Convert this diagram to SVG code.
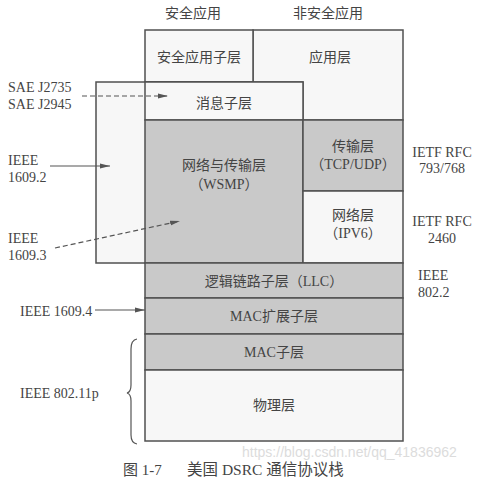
<svg xmlns="http://www.w3.org/2000/svg" width="495" height="486" viewBox="0 0 495 486">
<style>
.w{fill:#f7f7f7;stroke:#505050;stroke-width:1.5}
.g{fill:#c9c9c9;stroke:#505050;stroke-width:1.5}
text{font-family:"Liberation Serif","Noto Sans CJK SC",serif;font-size:14px;fill:#444}
.c{text-anchor:middle}
.ln{stroke:#555;stroke-width:1.2;fill:none}
.d{stroke-dasharray:5,3}
</style>
<defs>
<marker id="ah" viewBox="0 0 10 6" refX="10" refY="3" markerWidth="10" markerHeight="6" markerUnits="userSpaceOnUse" orient="auto">
<path d="M0,0.5 L10,3 L0,5.5 Z" fill="#555"/>
</marker>
</defs>
<rect width="495" height="486" fill="#fff"/>
<text class="c" x="193" y="18">安全应用</text>
<text class="c" x="328" y="18">非安全应用</text>
<g id="app-layer"><rect class="w" x="253" y="30" width="150" height="90"/><text class="c" x="330" y="62">应用层</text></g>
<g id="safety-app-sublayer"><rect class="w" x="145" y="30" width="108" height="52"/><text class="c" x="199" y="62">安全应用子层</text></g>
<g id="wave-box"><rect class="w" x="96" y="82" width="207" height="181"/></g>
<g id="message-sublayer"><rect class="w" x="145" y="82" width="158" height="38"/><text class="c" x="224" y="108">消息子层</text></g>
<g id="network-transport"><rect class="g" x="145" y="120" width="158" height="143"/><text class="c" x="224" y="170">网络与传输层</text><text class="c" x="224" y="189">（WSMP）</text></g>
<g id="transport"><rect class="g" x="303" y="120" width="100" height="71"/><text class="c" x="353" y="151">传输层</text><text class="c" x="353" y="169">（TCP/UDP）</text></g>
<g id="network"><rect class="w" x="303" y="191" width="100" height="72"/><text class="c" x="353" y="220">网络层</text><text class="c" x="353" y="238">（IPV6）</text></g>
<g id="llc"><rect class="g" x="145" y="263" width="258" height="35"/><text class="c" x="274" y="286">逻辑链路子层（LLC）</text></g>
<g id="mac-ext"><rect class="g" x="145" y="298" width="258" height="36"/><text class="c" x="274" y="321">MAC扩展子层</text></g>
<g id="mac"><rect class="g" x="145" y="334" width="258" height="36"/><text class="c" x="274" y="357">MAC子层</text></g>
<g id="phy"><rect class="w" x="145" y="370" width="258" height="71"/><text class="c" x="274" y="410">物理层</text></g>
<g id="labels">
<text x="8" y="92">SAE J2735</text>
<text x="8" y="109">SAE J2945</text>
<text x="8" y="165">IEEE</text>
<text x="8" y="182">1609.2</text>
<text x="8" y="243">IEEE</text>
<text x="8" y="260">1609.3</text>
<text x="20" y="316">IEEE 1609.4</text>
<text x="20" y="398">IEEE 802.11p</text>
<text class="c" x="442" y="157">IETF RFC</text>
<text class="c" x="442" y="173">793/768</text>
<text class="c" x="442" y="226">IETF RFC</text>
<text class="c" x="442" y="243">2460</text>
<text x="418" y="280">IEEE</text>
<text x="418" y="297">802.2</text>
</g>
<g id="connectors">
<line class="ln d" x1="82" y1="96" x2="168" y2="96" marker-end="url(#ah)"/>
<line class="ln" x1="50" y1="166" x2="110" y2="166" marker-end="url(#ah)"/>
<line class="ln d" x1="55" y1="248" x2="180" y2="221" marker-end="url(#ah)"/>
<line class="ln" x1="95" y1="310" x2="145" y2="310" marker-end="url(#ah)"/>
<path class="ln" d="M137,339 Q131,340 131,349 L131,385 Q131,392 127,393 Q131,394 131,401 L131,435 Q131,443 137,444"/>
</g>
<text x="242" y="457" style="font-family:'Liberation Sans',sans-serif;font-size:14px;fill:#dcdcdc">https://blog.csdn.net/qq_41836962</text>
<g id="caption">
<text x="123" y="475" style="font-size:15px">图 1-7</text>
<text x="187" y="475" style="font-size:15.5px">美国 DSRC 通信协议栈</text>
</g>
</svg>
